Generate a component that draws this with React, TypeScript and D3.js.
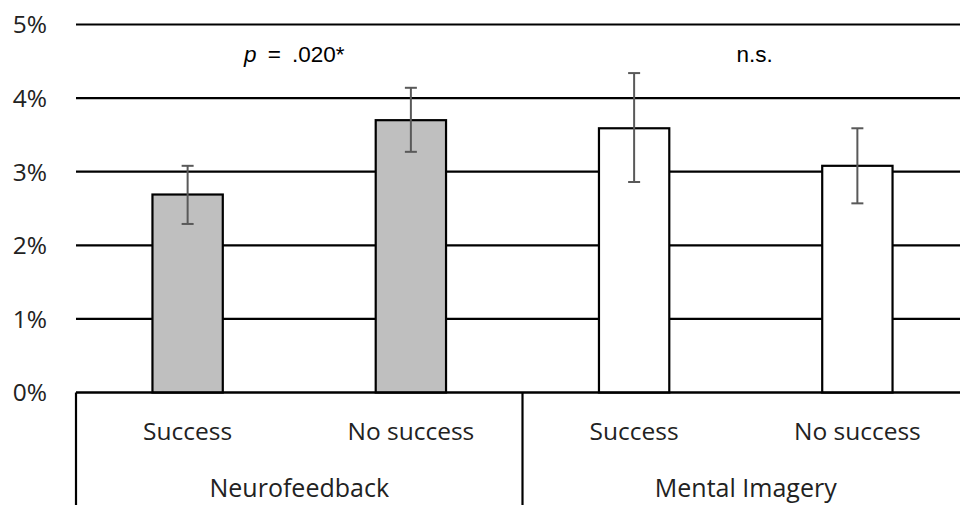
import React from "react";
import * as d3 from "d3";

const groups = ["Neurofeedback", "Mental Imagery"];
const categories = ["Success", "No success", "Success", "No success"];
const values = [2.69, 3.7, 3.59, 3.08];
const errLow = [2.29, 3.27, 2.86, 2.57];
const errHigh = [3.08, 4.14, 4.34, 3.59];
const fills = ["#bfbfbf", "#bfbfbf", "#ffffff", "#ffffff"];
const yTicks = [0, 1, 2, 3, 4, 5];
const annotations = [
  { group: 0, text: ".020*", italic: "p", shift: -5 },
  { group: 1, text: "n.s.", italic: "", shift: 9 },
];

export default function App() {
  const W = 960, H = 505;
  const left = 76, right = 969, top = 24.5, bottom = 392.5;
  const x = d3.scaleBand<number>().domain(d3.range(categories.length)).range([left, right]).padding(0);
  const y = d3.scaleLinear().domain([0, 5]).range([bottom, top]);
  const bw = x.bandwidth() * 0.315;
  const font = "'Open Sans', 'DejaVu Sans', sans-serif";
  const groupW = (right - left) / groups.length;
  return (
    <svg width={W} height={H} style={{ position: "absolute", left: 0, top: 0, background: "#fff" }}>
      {yTicks.map((t) => (
        <g key={t}>
          <line x1={left} x2={W} y1={y(t)} y2={y(t)} stroke="#000" strokeWidth={2.2} />
          <text x={47} y={y(t)} dy="0.36em" textAnchor="end" fontFamily={font} fontSize={24.5} fill="#222">
            {t}%
          </text>
        </g>
      ))}
      {values.map((v, i) => {
        const cx = (x(i) as number) + x.bandwidth() / 2;
        return (
          <g key={i}>
            <rect x={cx - bw / 2} y={y(v)} width={bw} height={y(0) - y(v)} fill={fills[i]} stroke="#000" strokeWidth={2.2} />
            <line x1={cx} x2={cx} y1={y(errLow[i])} y2={y(errHigh[i])} stroke="#595959" strokeWidth={2} />
            <line x1={cx - 6} x2={cx + 6} y1={y(errLow[i])} y2={y(errLow[i])} stroke="#595959" strokeWidth={2} />
            <line x1={cx - 6} x2={cx + 6} y1={y(errHigh[i])} y2={y(errHigh[i])} stroke="#595959" strokeWidth={2} />
            <text x={cx} y={440} textAnchor="middle" fontFamily={font} fontSize={24.5} fill="#222">
              {categories[i]}
            </text>
          </g>
        );
      })}
      <line x1={left} x2={W} y1={bottom} y2={bottom} stroke="#000" strokeWidth={2.2} />
      {groups.map((g, gi) => {
        const gx = left + gi * groupW;
        return (
          <g key={g}>
            <line x1={gx} x2={gx} y1={bottom} y2={H} stroke="#000" strokeWidth={2.2} />
            <text x={gx + groupW / 2} y={497} textAnchor="middle" fontFamily={font} fontSize={25} fill="#222">
              {g}
            </text>
          </g>
        );
      })}
      {annotations.map((a) => (
        <text key={a.group} x={left + a.group * groupW + groupW / 2 + a.shift} y={62}
          textAnchor="middle" fontFamily="'Liberation Sans', Arial, sans-serif" fontSize={22.5} wordSpacing={5} fill="#000">
          {a.italic ? (
            <>
              <tspan fontStyle="italic">{a.italic}</tspan>
              <tspan> = {a.text}</tspan>
            </>
          ) : (
            a.text
          )}
        </text>
      ))}
    </svg>
  );
}
